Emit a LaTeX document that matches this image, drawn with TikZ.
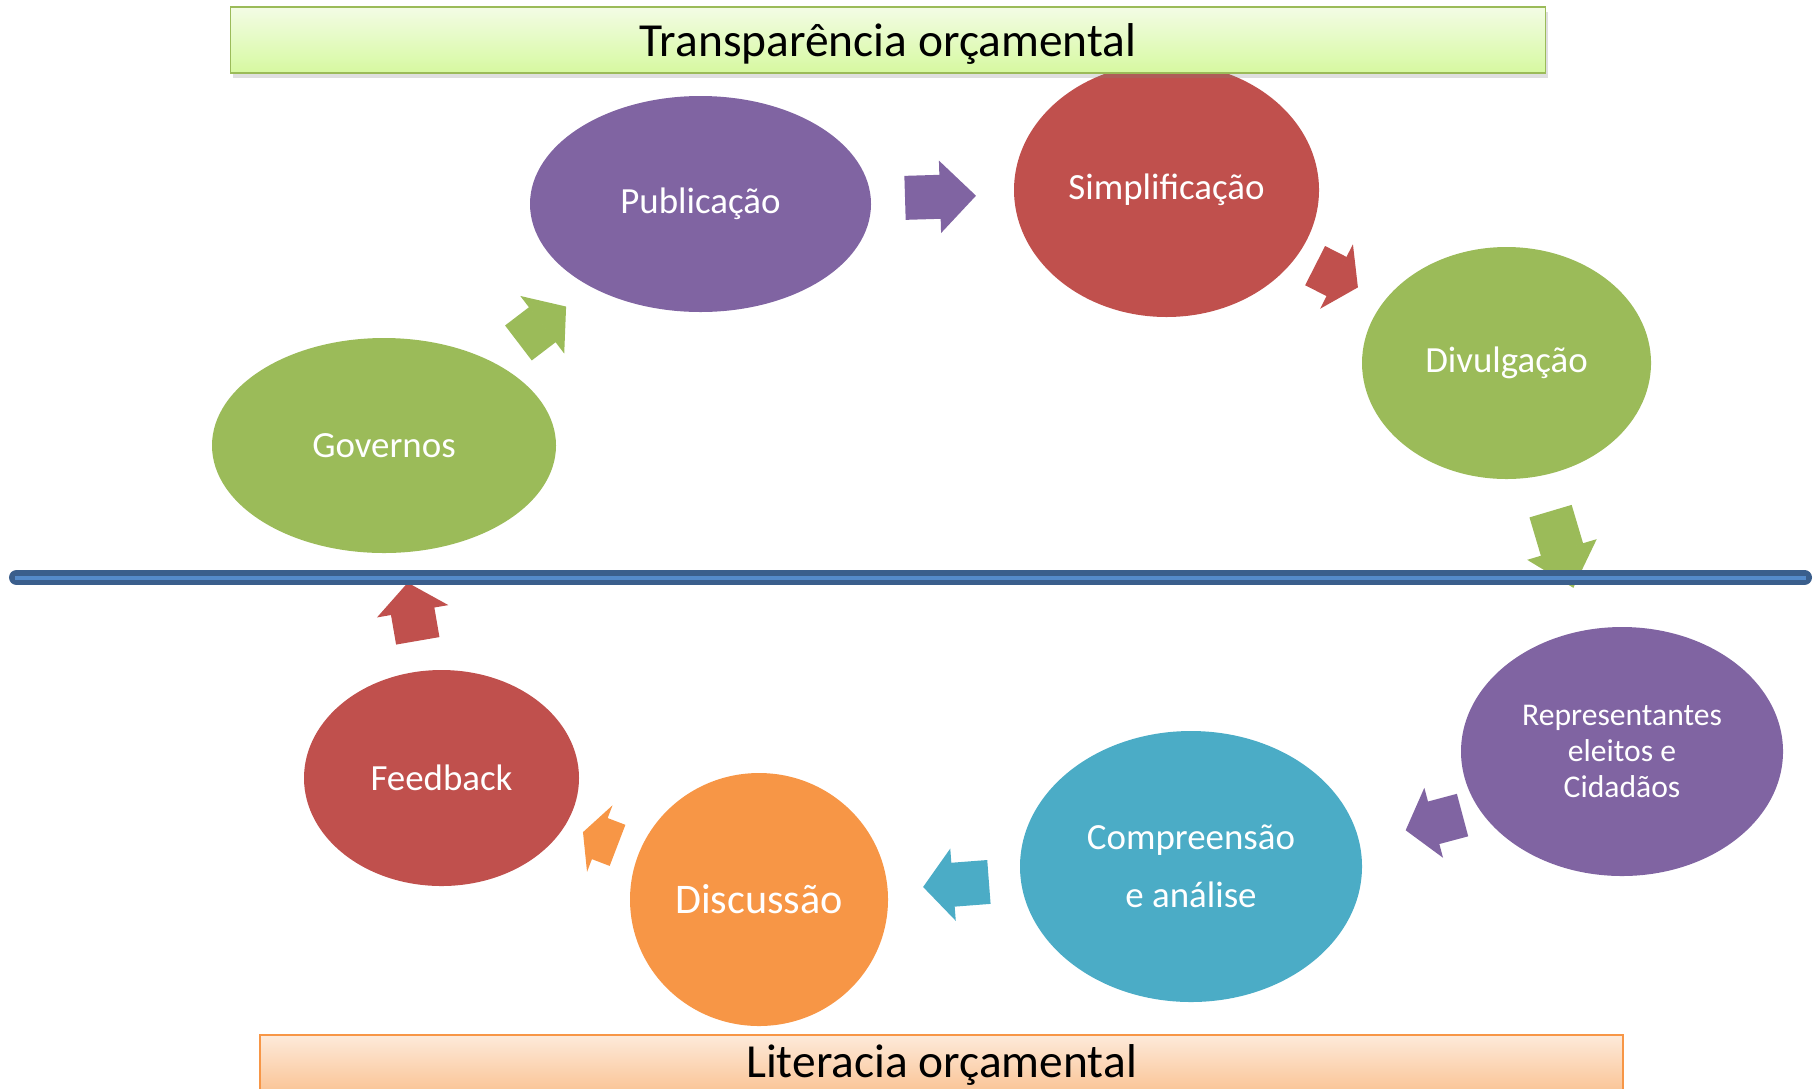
\documentclass[tikz,border=0pt]{standalone}
\usepackage{fontspec}
\setmainfont{Carlito}
\usepackage{xcolor}
\usetikzlibrary{shapes, arrows.meta, calc, shadows}

\definecolor{officepurple}{RGB}{128,100,162}
\definecolor{officered}{RGB}{192,80,77}
\definecolor{officegreen}{RGB}{155,187,89}
\definecolor{officeaqua}{RGB}{75,172,198}
\definecolor{officeorange}{RGB}{247,150,70}
\definecolor{dividerdark}{RGB}{58,94,140}
\definecolor{dividerlight}{RGB}{84,138,202}
\definecolor{greentop}{RGB}{243,252,229}
\definecolor{greenbottom}{RGB}{214,249,160}
\definecolor{orangetop}{RGB}{253,234,218}
\definecolor{orangebottom}{RGB}{250,194,146}

\begin{document}
\begin{tikzpicture}
    % Define styles
    \tikzstyle{stage} = [ellipse, inner sep=0pt, text=white, align=center, font=\fontsize{10.5}{12.6}\selectfont]
    \tikzstyle{banner} = [draw, rectangle, line width=0.5pt, inner sep=0pt, font=\fontsize{13.5}{16}\selectfont]
    \tikzstyle{cyclearrow} = [line width=0.44cm]

    \useasboundingbox (0,0) rectangle (18.17,-10.88);

    % TRANSPARENCY SIDE
    \node (governos) [stage, fill=officegreen, minimum width=3.44cm, minimum height=2.15cm] at (3.84,-4.455) {Governos};
    \node (publicacao) [stage, fill=officepurple, minimum width=3.41cm, minimum height=2.16cm] at (7.005,-2.04) {Publicação};
    \node (simplificacao) [stage, fill=officered, minimum width=3.05cm, minimum height=2.54cm] at (11.665,-1.90) {Simplificação};
    \node (divulgacao) [stage, fill=officegreen, minimum width=2.89cm, minimum height=2.32cm] at (15.065,-3.63) {Divulgação};

    % LITERACY SIDE
    \node (representantes) [stage, fill=officepurple, minimum width=3.22cm, minimum height=2.49cm, font=\fontsize{9}{10.3}\selectfont] at (16.22,-7.515) {Representantes\\eleitos e\\Cidadãos};
    \node (compreensao) [stage, fill=officeaqua, minimum width=3.42cm, minimum height=2.71cm, font=\fontsize{10.5}{16.5}\selectfont] at (11.91,-8.665) {Compreensão\\e análise};
    \node (discussao) [stage, fill=officeorange, minimum width=2.58cm, minimum height=2.53cm, font=\fontsize{12}{14}\selectfont] at (7.59,-8.995) {Discussão};
    \node (feedback) [stage, fill=officered, minimum width=2.75cm, minimum height=2.16cm] at (4.415,-7.78) {Feedback};

    % CONNECTIONS
    \draw[cyclearrow, officegreen, -{Triangle[length=0.30cm, width=0.72cm, line width=0.7pt]}] ($(governos)!0.5!(publicacao)!-0.30cm!(publicacao)$) -- ($(governos)!0.5!(publicacao)!0.30cm!(publicacao)$);
    \draw[cyclearrow, officepurple, -{Triangle[length=0.36cm, width=0.72cm, line width=0.7pt]}] ($(publicacao)!0.515!(simplificacao)!-0.355cm!(simplificacao)$) -- ($(publicacao)!0.515!(simplificacao)!0.355cm!(simplificacao)$);
    \draw[cyclearrow, officered, -{Triangle[length=0.24cm, width=0.72cm, line width=0.7pt]}] ($(simplificacao)!0.5!(divulgacao)!-0.24cm!(divulgacao)$) -- ($(simplificacao)!0.5!(divulgacao)!0.24cm!(divulgacao)$);
    \draw[cyclearrow, officegreen, -{Triangle[length=0.40cm, width=0.72cm, line width=0.7pt]}] ($(divulgacao)!0.48!(representantes)!-0.40cm!(representantes)$) -- ($(divulgacao)!0.48!(representantes)!0.40cm!(representantes)$);
    \draw[cyclearrow, officepurple, -{Triangle[length=0.29cm, width=0.72cm, line width=0.7pt]}] ($(representantes)!0.37!(compreensao) + (0,-0.21)$) -- ($(representantes)!0.502!(compreensao) + (0,-0.21)$);
    \draw[cyclearrow, officeaqua, -{Triangle[length=0.30cm, width=0.72cm, line width=0.7pt]}] ($(compreensao)!0.544!(discussao)!-0.33cm!(discussao)$) -- ($(compreensao)!0.544!(discussao)!0.33cm!(discussao)$);
    \draw[cyclearrow, officeorange, -{Triangle[length=0.18cm, width=0.71cm, line width=0.7pt]}] ($(discussao)!0.5!(feedback)!-0.185cm!(feedback)$) -- ($(discussao)!0.5!(feedback)!0.185cm!(feedback)$);
    \draw[cyclearrow, officered, -{Triangle[length=0.29cm, width=0.72cm, line width=0.7pt]}] ($(feedback)!0.5!(governos)!-0.295cm!(governos)$) -- ($(feedback)!0.5!(governos)!0.295cm!(governos)$);

    % Divider between the two halves
    \draw[line width=0.15cm, line cap=round, dividerdark] (0.165,-5.775) -- (18.045,-5.775);
    \draw[line width=0.04cm, dividerlight] (0.15,-5.775) -- (18.06,-5.775);

    % BANNERS
    \node (transparencia) [banner, draw=officegreen, top color=greentop, bottom color=greenbottom, drop shadow={shadow xshift=0.02cm, shadow yshift=-0.05cm, opacity=0.25}, minimum width=13.15cm, minimum height=0.66cm, text height=0.42cm, text depth=0.10cm] at (8.88,-0.40) {Transparência orçamental};
    \node (literacia) [banner, draw=officeorange, top color=orangetop, bottom color=orangebottom, minimum width=13.63cm, minimum height=0.60cm] at (9.415,-10.65) {Literacia orçamental};

\end{tikzpicture}
\end{document}
